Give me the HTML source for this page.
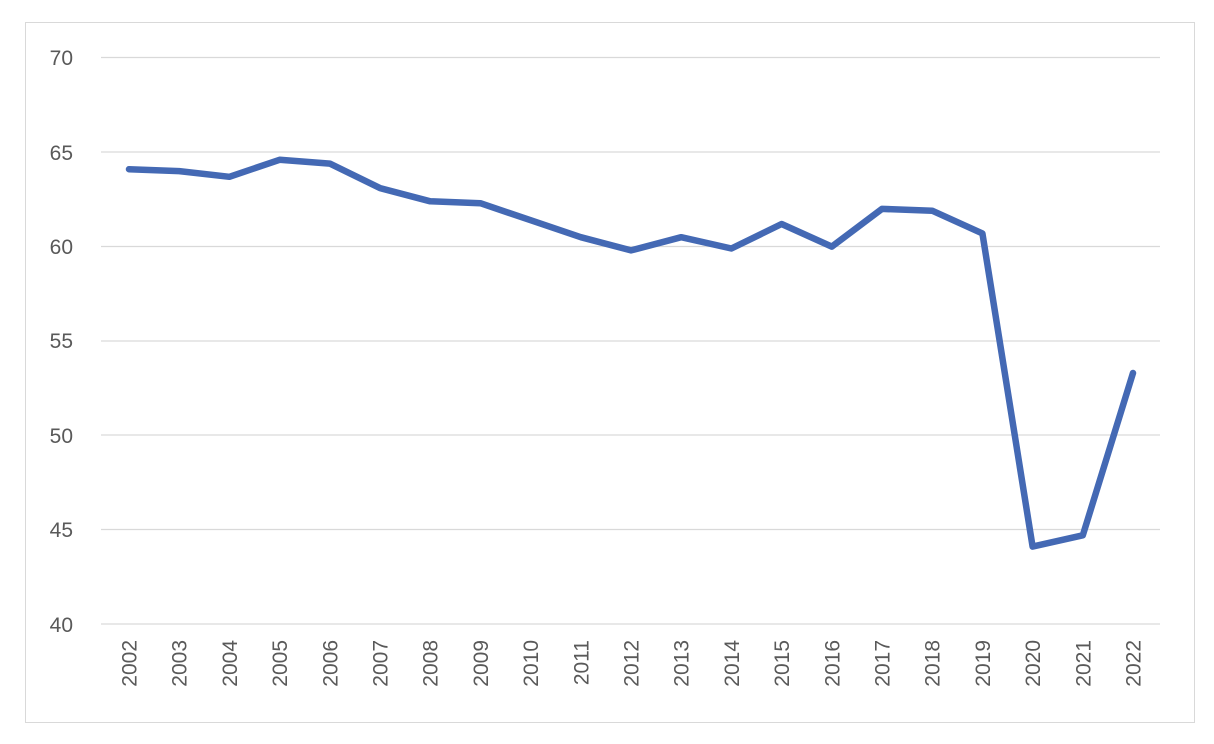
<!DOCTYPE html>
<html><head><meta charset="utf-8"><style>
html,body{margin:0;padding:0;background:#fff;}
svg{display:block;font-family:"Liberation Sans",sans-serif;}
</style></head><body>
<svg width="1214" height="744" viewBox="0 0 1214 744">
<rect x="25.5" y="22.5" width="1169" height="700" fill="#fff" stroke="#d9d9d9" stroke-width="1"/>
<g stroke="#d9d9d9" stroke-width="1.3">
<line x1="101" x2="1160" y1="57.5" y2="57.5"/>
<line x1="101" x2="1160" y1="152" y2="152"/>
<line x1="101" x2="1160" y1="246.5" y2="246.5"/>
<line x1="101" x2="1160" y1="341" y2="341"/>
<line x1="101" x2="1160" y1="435" y2="435"/>
<line x1="101" x2="1160" y1="529.5" y2="529.5"/>
<line x1="101" x2="1160" y1="624" y2="624"/>
</g>
<g fill="#595959" font-size="21" text-anchor="end">
<text x="73" y="65">70</text>
<text x="73" y="160">65</text>
<text x="73" y="254">60</text>
<text x="73" y="348">55</text>
<text x="73" y="443">50</text>
<text x="73" y="537">45</text>
<text x="73" y="632">40</text>
</g>
<g fill="#595959" font-size="21" text-anchor="end">
<text transform="translate(136.5,640) rotate(-90)">2002</text>
<text transform="translate(186.7,640) rotate(-90)">2003</text>
<text transform="translate(236.9,640) rotate(-90)">2004</text>
<text transform="translate(287.1,640) rotate(-90)">2005</text>
<text transform="translate(337.3,640) rotate(-90)">2006</text>
<text transform="translate(387.5,640) rotate(-90)">2007</text>
<text transform="translate(437.7,640) rotate(-90)">2008</text>
<text transform="translate(487.9,640) rotate(-90)">2009</text>
<text transform="translate(538.1,640) rotate(-90)">2010</text>
<text transform="translate(588.3,640) rotate(-90)">2011</text>
<text transform="translate(638.5,640) rotate(-90)">2012</text>
<text transform="translate(688.7,640) rotate(-90)">2013</text>
<text transform="translate(738.9,640) rotate(-90)">2014</text>
<text transform="translate(789.1,640) rotate(-90)">2015</text>
<text transform="translate(839.3,640) rotate(-90)">2016</text>
<text transform="translate(889.5,640) rotate(-90)">2017</text>
<text transform="translate(939.7,640) rotate(-90)">2018</text>
<text transform="translate(989.9,640) rotate(-90)">2019</text>
<text transform="translate(1040.1,640) rotate(-90)">2020</text>
<text transform="translate(1090.3,640) rotate(-90)">2021</text>
<text transform="translate(1140.5,640) rotate(-90)">2022</text>
</g>
<polyline fill="none" stroke="#4469b4" stroke-width="6.5" stroke-linejoin="round" stroke-linecap="round" points="129,169.2 179.2,171.1 229.4,176.8 279.6,159.8 329.8,163.6 380,188.1 430.2,201.3 480.4,203.2 530.6,220.2 580.8,237.2 631,250.4 681.2,237.2 731.4,248.5 781.6,224 831.8,246.6 882,208.9 932.2,210.7 982.4,233.4 1032.6,546.6 1082.8,535.3 1133,373"/>
</svg>
</body></html>
